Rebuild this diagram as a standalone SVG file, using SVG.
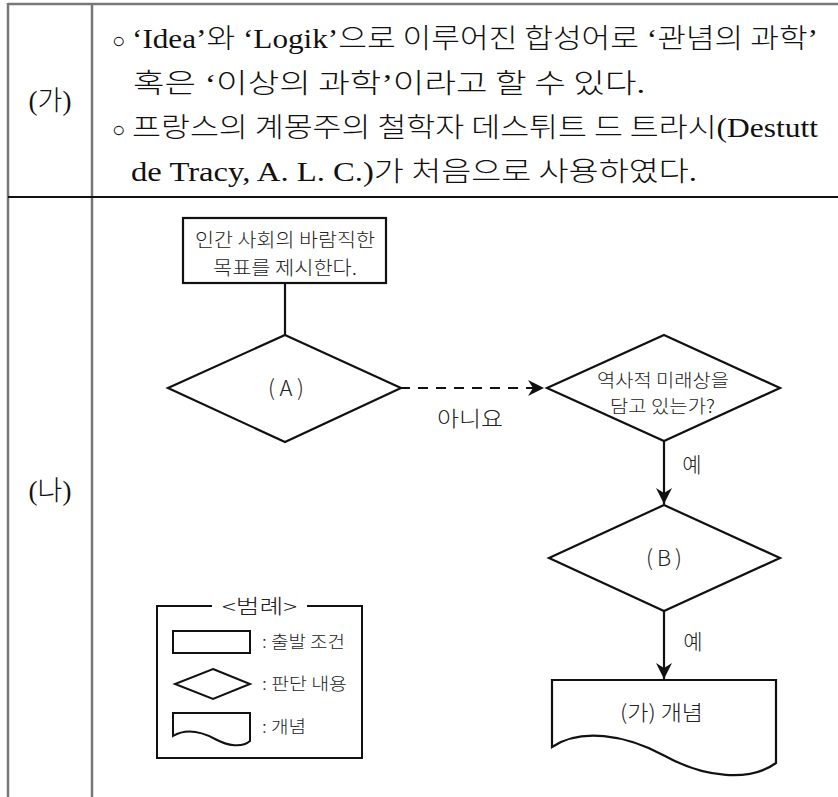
<svg xmlns="http://www.w3.org/2000/svg" width="838" height="797" viewBox="0 0 838 797">
<style>
.serif{font-family:"Liberation Serif","Noto Sans CJK KR",serif;font-size:27px;font-weight:400;fill:#111}
.kr{font-family:"Noto Sans CJK KR",sans-serif;font-weight:300}
.sans{font-family:"Noto Sans CJK KR","Noto Sans",sans-serif;font-weight:300;fill:#222}
.shape{fill:#fff;stroke:#111;stroke-width:2.2}
.lg{fill:#fff;stroke:#111;stroke-width:2}
.conn{fill:none;stroke:#111;stroke-width:2.2}
.grid{stroke:#777;stroke-width:2.5;fill:none}
</style>
<defs>
<marker id="arr" viewBox="0 0 16 16" refX="16" refY="8" markerWidth="16" markerHeight="16" orient="auto" markerUnits="userSpaceOnUse">
<path d="M0,0 L16,8 L0,16 L5,8 Z" fill="#111"/>
</marker>
</defs>
<rect width="838" height="797" fill="#fff"/>
<g id="table">
<line class="grid" x1="8" y1="4" x2="838" y2="4"/>
<line class="grid" x1="8" y1="3" x2="8" y2="797"/>
<line class="grid" x1="92" y1="3" x2="92" y2="797"/>
<line x1="8" y1="197" x2="838" y2="197" stroke="#111" stroke-width="2"/>
<text class="serif" x="50" y="110" text-anchor="middle">(<tspan class="kr">가</tspan>)</text>
<text class="serif" x="50" y="500" text-anchor="middle">(<tspan class="kr">나</tspan>)</text>
</g>
<g id="ga-text" class="serif">
<text x="112" y="48" font-size="22">○</text>
<text x="132" y="48" textLength="686" lengthAdjust="spacingAndGlyphs">‘Idea’<tspan class="kr">와</tspan> ‘Logik’<tspan class="kr">으로 이루어진 합성어로</tspan> ‘<tspan class="kr">관념의 과학</tspan>’</text>
<text x="133" y="93" textLength="512" lengthAdjust="spacingAndGlyphs"><tspan class="kr">혹은</tspan> ‘<tspan class="kr">이상의 과학</tspan>’<tspan class="kr">이라고 할 수 있다</tspan>.</text>
<text x="112" y="137" font-size="22">○</text>
<text x="132" y="137" textLength="686" lengthAdjust="spacingAndGlyphs"><tspan class="kr">프랑스의 계몽주의 철학자 데스튀트 드 트라시</tspan>(Destutt</text>
<text x="131" y="181" textLength="566" lengthAdjust="spacingAndGlyphs">de Tracy, A. L. C.)<tspan class="kr">가 처음으로 사용하였다</tspan>.</text>
</g>
<g id="connectors">
<line class="conn" x1="285" y1="283" x2="285" y2="335"/>
<line class="conn" x1="400" y1="388" x2="544" y2="388" stroke-dasharray="10 8" marker-end="url(#arr)"/>
<line class="conn" x1="664" y1="441" x2="664" y2="504" marker-end="url(#arr)"/>
<line class="conn" x1="664" y1="611" x2="664" y2="679" marker-end="url(#arr)"/>
<text class="sans" x="437" y="426" font-size="21" textLength="66" lengthAdjust="spacingAndGlyphs">아니요</text>
<text class="sans" x="692" y="472" font-size="21" text-anchor="middle">예</text>
<text class="sans" x="693" y="649" font-size="21" text-anchor="middle">예</text>
</g>
<g id="start">
<rect class="shape" x="183" y="218" width="203" height="65"/>
<text class="sans" x="195" y="247" font-size="19" textLength="180" lengthAdjust="spacingAndGlyphs">인간 사회의 바람직한</text>
<text class="sans" x="213" y="275" font-size="19" textLength="144" lengthAdjust="spacingAndGlyphs">목표를 제시한다.</text>
</g>
<g id="diamondA">
<polygon class="shape" points="285,335 401,388 285,442 168,388"/>
<text class="sans" x="268" y="396" font-size="22" textLength="36" lengthAdjust="spacing">(A)</text>
</g>
<g id="diamondQ">
<polygon class="shape" points="664,335 780,388 664,441 547,388"/>
<text class="sans" x="597" y="387" font-size="18" textLength="132" lengthAdjust="spacingAndGlyphs">역사적 미래상을</text>
<text class="sans" x="610" y="413" font-size="18" textLength="105" lengthAdjust="spacingAndGlyphs">담고 있는가?</text>
</g>
<g id="diamondB">
<polygon class="shape" points="664,505 780,558 664,611 549,558"/>
<text class="sans" x="646" y="566" font-size="22" textLength="36" lengthAdjust="spacing">(B)</text>
</g>
<g id="concept">
<path class="shape" d="M552,680 H776 V763 C750,782 705,778 665,756 C625,734 580,728 552,747 Z"/>
<text class="sans" x="620" y="720" font-size="21" textLength="83" lengthAdjust="spacingAndGlyphs">(가) 개념</text>
</g>
<g id="legend">
<path class="lg" fill="none" d="M212,606 H157 V758 H362 V606 H307"/>
<text class="sans" x="222" y="614" font-size="20" textLength="75" lengthAdjust="spacingAndGlyphs">&lt;범례&gt;</text>
<rect class="lg" x="173" y="631" width="77" height="22"/>
<text class="sans" x="262" y="648" font-size="17" textLength="83" lengthAdjust="spacingAndGlyphs">: 출발 조건</text>
<polygon class="lg" points="213,669 250,684 213,699 175,684"/>
<text class="sans" x="262" y="690" font-size="17" textLength="85" lengthAdjust="spacingAndGlyphs">: 판단 내용</text>
<path class="lg" d="M173,713 H250 V741 C242,748 228,746 215,739 C200,731 185,729 173,736 Z"/>
<text class="sans" x="262" y="733" font-size="17" textLength="44" lengthAdjust="spacingAndGlyphs">: 개념</text>
</g>
</svg>
